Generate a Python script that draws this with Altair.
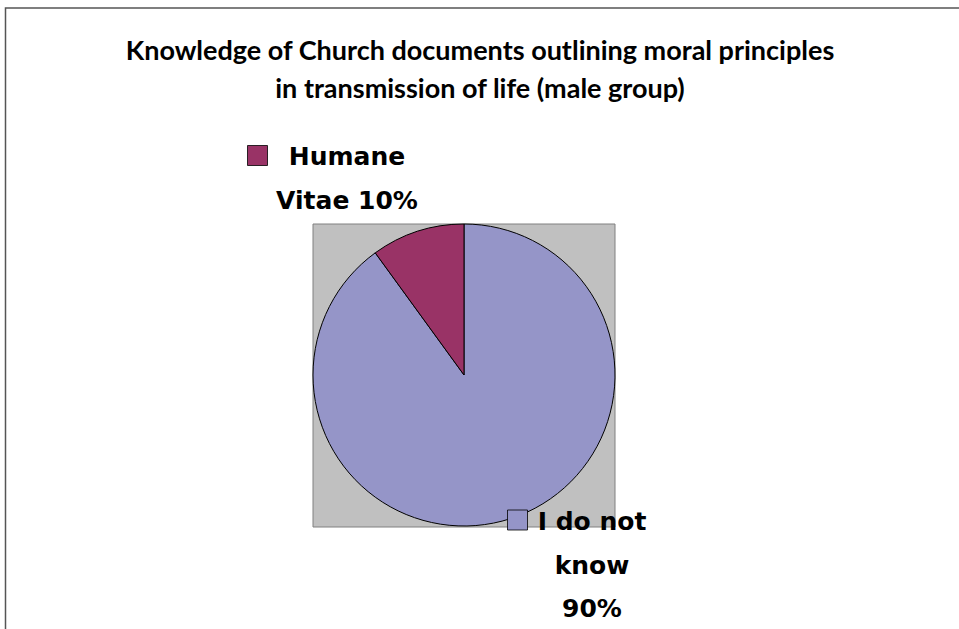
import altair as alt
import pandas as pd

# ---- data ----
categories = ["I do not know", "Humane Vitae"]
values = [90, 10]
label_texts = ["I do not\nknow\n 90%", "Humane\nVitae 10%"]
colors = ["#9595C8", "#993366"]
title_lines = ["Knowledge of Church documents outlining moral principles",
               "in transmission of life (male group)"]

df = pd.DataFrame({
    "category": categories,
    "value": values,
    "label": label_texts,
    "order": list(range(len(categories))),
})
title_df = pd.DataFrame({"t": ["\n".join(title_lines)]})

color_scale = alt.Scale(domain=categories, range=colors)

base = alt.Chart(df)

frame = alt.Chart(pd.DataFrame({"a": [0]})).mark_rect(
    fill="white", stroke="#555555", strokeWidth=1.5
).encode(x=alt.value(5.5), y=alt.value(8), x2=alt.value(990), y2=alt.value(700))

plot_bg = alt.Chart(pd.DataFrame({"a": [0]})).mark_rect(
    fill="#C0C0C0", stroke="#808080", strokeWidth=1
).encode(x=alt.value(313), x2=alt.value(615), y=alt.value(224), y2=alt.value(527))

pie = base.mark_arc(radius=151, stroke="black", strokeWidth=1).encode(
    theta=alt.Theta("value:Q", stack=True),
    order=alt.Order("order:Q"),
    color=alt.Color("category:N", scale=color_scale, legend=None),
    x=alt.value(464),
    y=alt.value(375),
)

title = alt.Chart(title_df).mark_text(
    font="Lato", fontWeight="bold", fontSize=27, align="center", baseline="top",
    lineBreak="\n", lineHeight=38, color="black"
).encode(text="t:N", x=alt.value(480), y=alt.value(39))

def label_layer(cat, sq_x, sq_y, tx, ty):
    sel = base.transform_filter(alt.datum.category == cat)
    sq = sel.mark_square(size=400, stroke="black", strokeWidth=0.8, opacity=1).encode(
        color=alt.Color("category:N", scale=color_scale, legend=None),
        x=alt.value(sq_x), y=alt.value(sq_y),
    )
    tx_layer = sel.mark_text(
        font="DejaVu Sans", fontWeight="bold", fontSize=25, align="center",
        baseline="top", lineBreak="\n", lineHeight=43.5, color="black"
    ).encode(text="label:N", x=alt.value(tx), y=alt.value(ty))
    return sq, tx_layer

sq1, t1 = label_layer("Humane Vitae", 257.5, 155.5, 347, 145)
sq2, t2 = label_layer("I do not know", 517.5, 520, 592, 510)

chart = alt.layer(frame, plot_bg, pie, title, sq1, t1, sq2, t2).resolve_scale(
    theta="independent"
).properties(
    width=959, height=629, autosize=alt.AutoSizeParams(type="none"), padding=0,
    background="white"
).configure_view(stroke=None)

chart.save("out.html", embed_options={"renderer": "svg", "actions": False})
